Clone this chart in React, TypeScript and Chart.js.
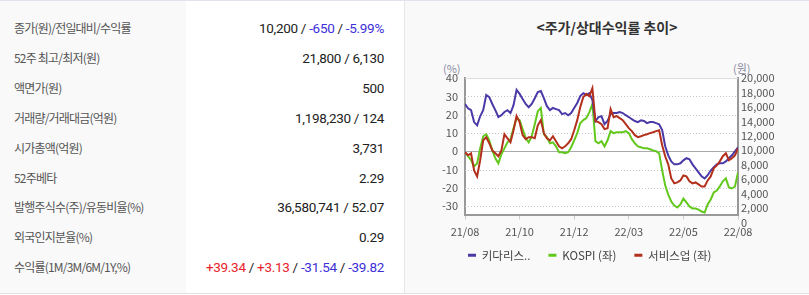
import React, { useEffect, useRef } from 'react';
import { Chart, registerables } from 'chart.js';

Chart.register(...registerables);

// ---------- data ----------
const infoLabels = [
  '종가(원)/전일대비/수익률',
  '52주 최고/최저(원)',
  '액면가(원)',
  '거래량/거래대금(억원)',
  '시가총액(억원)',
  '52주베타',
  '발행주식수(주)/유동비율(%)',
  '외국인지분율(%)',
  '수익률(1M/3M/6M/1Y,%)',
];
const infoValues = [
  '10,200 / -650 / -5.99%',
  '21,800 / 6,130',
  '500',
  '1,198,230 / 124',
  '3,731',
  '2.29',
  '36,580,741 / 52.07',
  '0.29',
  '+39.34 / +3.13 / -31.54 / -39.82',
];
const signColoredRows = [0, 8];

const chartTitle = '<주가/상대수익률 추이>';
const leftUnit = '(%)';
const rightUnit = '(원)';
const seriesNames = ['키다리스..', 'KOSPI (좌)', '서비스업 (좌)'];
const tickLabels = ['21/08', '21/10', '21/12', '22/03', '22/05', '22/08'];
const tickIndexes = [0, 18, 36, 54, 72, 90];
const leftTicks = [40, 30, 20, 10, 0, -10, -20, -30];
const rightTicks = [0, 2000, 4000, 6000, 8000, 10000, 12000, 14000, 16000, 18000, 20000];

// 키다리스튜디오 price (원, right axis)
const kidariPrice = [
  16400, 15800, 15550, 13900, 13450, 14700, 15550, 17650, 17350, 16400,
  15550, 14600, 14850, 15300, 15550, 15150, 16250, 18350, 17800, 17100,
  16400, 15950, 16400, 17200, 18050, 18200, 17200, 16100, 15550, 15850,
  15700, 15550, 15000, 15150, 14850, 15150, 15850, 16550, 17500, 17900,
  17650, 17900, 16950, 14050, 14600, 14700, 13600, 14050, 15000, 15150,
  15150, 15300, 15150, 14850, 14600, 14300, 14050, 13900, 14150, 14050,
  13750, 13900, 13900, 13750, 13600, 12800, 10550, 9300, 8450, 8050,
  8050, 8200, 8600, 8900, 8750, 8050, 7500, 6950, 6400, 6100,
  6550, 7200, 7650, 8050, 8200, 8200, 8450, 8900, 9300, 9850, 10400,
];
// KOSPI relative return (%, left axis)
const kospiReturn = [
  -0.5, -2.7, -4.9, -8.2, -6.6, 1.6, 8.2, 9.3, 6.0, 0.5,
  -3.8, -6.6, -1.6, 1.6, 4.9, 6.6, 12.6, 18.1, 17.0, 12.1,
  7.1, 4.9, 8.2, 14.8, 21.9, 23.6, 9.3, 7.7, 4.4, 4.9,
  2.7, -0.5, -0.5, -1.1, -0.5, 2.2, 6.0, 9.9, 15.3, 17.0,
  18.1, 21.4, 25.8, 5.5, 4.4, 5.5, 2.7, 6.0, 11.0, 9.9,
  10.4, 10.4, 10.4, 11.0, 9.9, 6.6, 4.4, 2.7, 2.2, 1.6,
  1.6, 1.1, 0.5, 0.0, -1.1, -10.4, -18.6, -23.6, -27.4, -29.6,
  -30.7, -29.0, -25.8, -27.9, -30.1, -31.2, -31.2, -31.8, -32.9, -33.4,
  -29.0, -26.3, -22.5, -21.4, -19.2, -16.4, -14.8, -19.7, -20.3, -19.2, -11.5,
];
// 서비스업 relative return (%, left axis)
const serviceReturn = [
  -0.5, -2.2, -1.1, -10.4, -13.7, -4.9, 6.0, 7.7, 4.4, 0.5,
  -1.1, -2.7, 0.5, 9.3, 7.1, 4.9, 11.5, 19.2, 15.9, 8.8,
  6.6, 7.7, 7.7, 7.1, 14.2, 17.0, 9.9, 7.1, 6.0, 8.2,
  5.5, 2.7, 1.6, 2.7, 4.4, 6.6, 11.5, 17.0, 24.1, 29.6,
  31.2, 30.1, 34.5, 16.4, 15.9, 14.8, 12.1, 12.6, 23.0, 18.6,
  19.2, 18.1, 17.0, 14.8, 12.6, 11.0, 8.8, 7.7, 8.2, 8.8,
  9.3, 9.9, 10.4, 11.0, 11.5, 3.3, -2.7, -7.1, -14.8, -17.5,
  -17.0, -15.9, -13.2, -13.7, -16.4, -17.5, -17.0, -18.1, -19.2, -19.2,
  -15.9, -13.7, -9.3, -7.7, -5.5, -2.7, -1.1, -4.9, -3.8, -2.2, 1.6,
];

const seriesColors = ['#4a3aa8', '#62c81c', '#b3301c'];

const FONT = "'Noto Sans CJK KR', 'Noto Sans', sans-serif";

const toXY = (arr: number[]) => arr.map((v, i) => ({ x: i, y: v }));

const framePlugin = {
  id: 'frame',
  afterLayout(chart: any) {
    // widen label clip boxes so tick labels are not cut off
    const ys = chart.scales.y;
    ys.left = 0;
    const xs = chart.scales.x;
    xs.bottom = xs.top + 30;
  },
  beforeDraw(chart: any) {
    const { ctx, chartArea: a } = chart;
    ctx.save();
    ctx.fillStyle = '#ffffff';
    ctx.fillRect(a.left, a.top, a.right - a.left, a.bottom - a.top);
    ctx.restore();
  },
  beforeDatasetsDraw(chart: any) {
    const { ctx, chartArea: a, scales } = chart;
    const ys = scales.y;
    ctx.save();
    ctx.lineWidth = 1;
    for (const v of leftTicks) {
      const py = Math.round(ys.getPixelForValue(v)) + 0.5;
      if (v === leftTicks[0]) {
        ctx.setLineDash([]);
        ctx.strokeStyle = '#dddddd';
      } else if (v === 0) {
        ctx.setLineDash([]);
        ctx.strokeStyle = '#aaaaaa';
      } else {
        ctx.setLineDash([1, 2]);
        ctx.strokeStyle = '#c4c4c4';
      }
      ctx.beginPath();
      ctx.moveTo(a.left, py);
      ctx.lineTo(a.right, py);
      ctx.stroke();
    }
    ctx.restore();
  },
};

function PriceChart() {
  const ref = useRef<HTMLCanvasElement>(null);
  useEffect(() => {
    if (!ref.current) return;
    const tickFont = { family: FONT, size: 11 };
    const chart = new Chart(ref.current, {
      type: 'line',
      data: {
        datasets: [
          {
            label: seriesNames[0],
            data: toXY(kidariPrice),
            yAxisID: 'y2',
            borderColor: seriesColors[0],
            backgroundColor: seriesColors[0],
            borderWidth: 2,
            pointRadius: 0,
            tension: 0,
            order: 1,
          },
          {
            label: seriesNames[1],
            data: toXY(kospiReturn),
            yAxisID: 'y',
            borderColor: seriesColors[1],
            backgroundColor: seriesColors[1],
            borderWidth: 2,
            pointRadius: 0,
            tension: 0,
            order: 2,
          },
          {
            label: seriesNames[2],
            data: toXY(serviceReturn),
            yAxisID: 'y',
            borderColor: seriesColors[2],
            backgroundColor: seriesColors[2],
            borderWidth: 2,
            pointRadius: 0,
            tension: 0,
            order: 0,
          },
        ],
      },
      options: {
        animation: false,
        responsive: false,
        events: [],
        layout: { padding: { left: 40, right: 0, top: 18, bottom: 24 } },
        plugins: {
          legend: {
            position: 'bottom',
            align: 'start',
            labels: {
              boxWidth: 8,
              boxHeight: 3,
              padding: 18,
              color: '#444',
              font: { family: FONT, size: 11.5 },
              sort: (a: any, b: any) => a.datasetIndex - b.datasetIndex,
              generateLabels: (c: any) =>
                (Chart.defaults.plugins.legend.labels as any)
                  .generateLabels(c)
                  .map((l: any) => ({ ...l, lineWidth: 0 })),
            },
          },
          tooltip: { enabled: false },
          title: { display: false },
        },
        scales: {
          x: {
            type: 'linear',
            min: tickIndexes[0],
            max: tickIndexes[tickIndexes.length - 1],
            afterBuildTicks: (s: any) => {
              s.ticks = tickIndexes.map((v) => ({ value: v }));
            },
            afterFit: (s: any) => {
              s.height = 17;
            },
            ticks: {
              autoSkip: false,
              maxRotation: 0,
              padding: 6,
              color: '#555',
              font: tickFont,
              callback: (v: any) => tickLabels[tickIndexes.indexOf(v)],
            },
            grid: { drawOnChartArea: false, drawTicks: true, tickLength: 5, color: '#cccccc' },
            border: { display: true, color: '#999', width: 2 },
          },
          y: {
            type: 'linear',
            position: 'left',
            min: -34.5,
            max: 40,
            afterBuildTicks: (s: any) => {
              s.ticks = leftTicks.map((v) => ({ value: v }));
            },
            afterFit: (s: any) => {
              s.width = 15;
            },
            ticks: { autoSkip: false, padding: 7, color: '#555', font: tickFont },
            grid: { display: false, drawTicks: false },
            border: { display: true, color: '#999', width: 2 },
          },
          y2: {
            type: 'linear',
            position: 'right',
            min: 1111,
            max: 20000,
            afterBuildTicks: (s: any) => {
              s.ticks = rightTicks.map((v) => ({ value: v }));
            },
            afterFit: (s: any) => {
              s.width = 71;
            },
            ticks: {
              autoSkip: false,
              padding: 3,
              color: '#555',
              font: tickFont,
              callback: (v: any) => Number(v).toLocaleString('en-US'),
            },
            grid: { display: false, drawTicks: false },
            border: { display: true, color: '#999', width: 2 },
          },
        },
      } as any,
      plugins: [framePlugin],
    });
    return () => chart.destroy();
  }, []);
  return <canvas ref={ref} width={399} height={235} style={{ display: 'block', width: 399, height: 235 }} />;
}

function ValueText({ text, colored }: { text: string; colored: boolean }) {
  const parts = text.split(' / ');
  return (
    <>
      {parts.map((p, i) => {
        let color = '#222';
        if (colored && p.startsWith('-')) color = '#3d2fd8';
        if (colored && p.startsWith('+')) color = '#e8232b';
        return (
          <React.Fragment key={i}>
            {i > 0 ? <span style={{ color: '#222' }}> / </span> : null}
            <span style={{ color }}>{p}</span>
          </React.Fragment>
        );
      })}
    </>
  );
}

export default function App() {
  useEffect(() => {
    document.body.style.margin = '0';
  }, []);
  return (
    <div
      style={{
        position: 'absolute',
        left: 0,
        top: 0,
        width: 809,
        height: 295,
        background: '#fff',
        fontFamily: FONT,
        overflow: 'hidden',
      }}
    >
      <div style={{ position: 'absolute', left: 0, top: 0, width: 809, height: 1, background: '#e2e2ea' }} />
      <div style={{ position: 'absolute', left: 0, top: 1, width: 186, height: 292, background: '#f9f9f9' }} />
      <div style={{ position: 'absolute', left: 404, top: 1, width: 1, height: 292, background: '#e6e6e6' }} />
      <div style={{ position: 'absolute', left: 405, top: 1, width: 404, height: 292, background: '#f9f9f9' }} />
      <div style={{ position: 'absolute', left: 0, top: 293, width: 809, height: 1, background: '#e2e2e2' }} />

      {infoLabels.map((lab, i) => (
        <div
          key={'l' + i}
          style={{
            position: 'absolute',
            left: 14,
            top: 13 + i * 29.9,
            height: 30,
            lineHeight: '30px',
            fontSize: 12,
            letterSpacing: -0.8,
            color: '#555',
            whiteSpace: 'nowrap',
          }}
        >
          {lab}
        </div>
      ))}
      {infoValues.map((val, i) => (
        <div
          key={'v' + i}
          style={{
            position: 'absolute',
            left: 186,
            width: 198,
            top: 13 + i * 29.9,
            height: 30,
            lineHeight: '30px',
            textAlign: 'right',
            fontSize: 13.5,
            fontFamily: "Roboto, 'Noto Sans', sans-serif",
            letterSpacing: -0.3,
            whiteSpace: 'nowrap',
          }}
        >
          <ValueText text={val} colored={signColoredRows.includes(i)} />
        </div>
      ))}

      <div
        style={{
          position: 'absolute',
          left: 410,
          width: 394,
          top: 17,
          lineHeight: '20px',
          textAlign: 'center',
          fontSize: 14,
          fontWeight: 'bold',
          color: '#333',
        }}
      >
        {chartTitle}
      </div>
      <div style={{ position: 'absolute', left: 443, top: 60, fontSize: 11, lineHeight: '16px', color: '#8a8aa2' }}>
        {leftUnit}
      </div>
      <div style={{ position: 'absolute', left: 733, top: 60, fontSize: 11, lineHeight: '16px', color: '#8a8aa2' }}>
        {rightUnit}
      </div>
      <div style={{ position: 'absolute', left: 410, top: 60 }}>
        <PriceChart />
      </div>
    </div>
  );
}
